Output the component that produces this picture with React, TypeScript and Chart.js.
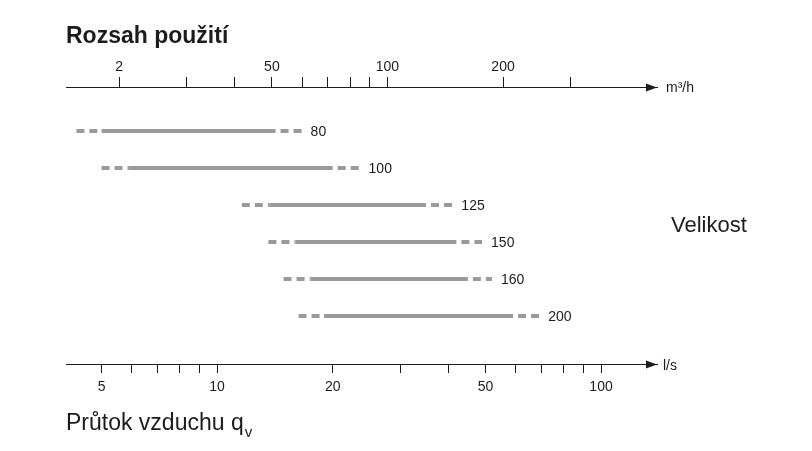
import { useEffect, useRef } from 'react';
import { Chart, registerables } from 'chart.js';

Chart.register(...registerables);

// Duct sizes, one row each
const sizes = ['80', '100', '125', '150', '160', '200'];
// Air flow in l/s: extended (dashed) and nominal (solid) operating range
const extendedMin = [4.3, 5.0, 11.6, 13.6, 14.9, 16.3];
const nominalMin = [5.0, 5.9, 13.7, 16.0, 17.5, 19.0];
const nominalMax = [14.2, 20.0, 35.0, 42.0, 45.0, 59.0];
const extendedMax = [16.6, 23.5, 41.0, 49.0, 52.0, 69.0];

// Bottom axis (l/s)
const lsTicks = [5, 6, 7, 8, 9, 10, 20, 30, 40, 50, 60, 70, 80, 90, 100];
const lsLabels = ['5', '', '', '', '', '10', '20', '', '', '50', '', '', '', '', '100'];
// Top axis (m³/h)
const m3hTicks = [20, 30, 40, 50, 60, 70, 80, 90, 100, 200, 300];
const m3hLabels = ['2', '', '', '50', '', '', '', '', '100', '200', ''];

const LS_MIN = 4.04;
const LS_MAX = 139.9;
const M3H_PER_LS = 3.6;

const FONT = "'Liberation Sans', Arial, Helvetica, sans-serif";
const INK = '#1c1c1c';
const BAR = '#9a9a9a';

const decorations = {
  id: 'decorations',
  afterDraw(chart: any) {
    const { ctx, chartArea } = chart;
    const xs = chart.scales.x;
    const ys = chart.scales.y;
    ctx.save();

    // arrow heads at the right end of both axes
    ctx.fillStyle = INK;
    const arrow = (yy: number) => {
      ctx.beginPath();
      ctx.moveTo(chartArea.right, yy);
      ctx.lineTo(chartArea.right - 11, yy - 4);
      ctx.lineTo(chartArea.right - 11, yy + 4);
      ctx.closePath();
      ctx.fill();
    };
    arrow(Math.floor(chartArea.top) + 0.5);
    arrow(Math.floor(chartArea.bottom) + 0.5);

    // size labels at the end of each range
    ctx.font = `14px ${FONT}`;
    ctx.textAlign = 'left';
    ctx.textBaseline = 'middle';
    sizes.forEach((s, i) => {
      ctx.fillText(s, xs.getPixelForValue(extendedMax[i]) + 9, ys.getPixelForValue(i) + 1);
    });

    // units
    ctx.textBaseline = 'alphabetic';
    ctx.fillText('m³/h', chartArea.right + 9, chartArea.top + 5);
    ctx.fillText('l/s', chartArea.right + 6, chartArea.bottom + 6);

    // titles
    ctx.font = `bold 23px ${FONT}`;
    ctx.fillText('Rozsah použití', 66, 43);
    ctx.font = `22px ${FONT}`;
    ctx.fillText('Velikost', 671, 232);
    ctx.font = `23px ${FONT}`;
    const flow = 'Průtok vzduchu q';
    ctx.fillText(flow, 66, 430);
    const w = ctx.measureText(flow).width;
    ctx.font = `15px ${FONT}`;
    ctx.fillText('v', 67 + w, 437);

    ctx.restore();
  },
};

function segment(x0: number, x1: number, row: number, dashed: boolean, offset: number) {
  return {
    type: 'line' as const,
    data: [
      { x: x0, y: row },
      { x: x1, y: row },
    ],
    showLine: true,
    pointRadius: 0,
    borderColor: BAR,
    borderWidth: 4,
    borderCapStyle: 'butt' as const,
    borderDash: dashed ? [8, 5] : [],
    borderDashOffset: offset,
    fill: false,
  };
}

export default function App() {
  const canvasRef = useRef<HTMLCanvasElement | null>(null);

  useEffect(() => {
    if (!canvasRef.current) return;

    const datasets: any[] = [];
    sizes.forEach((_, i) => {
      datasets.push(segment(extendedMin[i], nominalMin[i], i, true, 0));
      datasets.push(segment(nominalMin[i], nominalMax[i], i, false, 0));
      datasets.push(segment(nominalMax[i], extendedMax[i], i, true, 8));
    });

    const chart = new Chart(canvasRef.current, {
      type: 'scatter',
      data: { datasets },
      plugins: [decorations],
      options: {
        animation: false,
        responsive: false,
        devicePixelRatio: 1,
        layout: { padding: { left: 66, right: 155, top: 0, bottom: 0 } },
        plugins: { legend: { display: false }, tooltip: { enabled: false } },
        scales: {
          x: {
            type: 'logarithmic',
            position: 'bottom',
            bounds: 'data',
            min: LS_MIN,
            max: LS_MAX,
            afterBuildTicks: (scale: any) => {
              scale.ticks = lsTicks.map((v) => ({ value: v }));
            },
            afterFit: (scale: any) => {
              scale.height = 87;
            },
            ticks: {
              autoSkip: false,
              maxRotation: 0,
              minRotation: 0,
              padding: 6,
              color: INK,
              font: { family: FONT, size: 14 },
              callback: (value: any) => {
                const k = lsTicks.indexOf(Number(value));
                return k >= 0 ? lsLabels[k] : '';
              },
            },
            grid: { drawOnChartArea: false, tickLength: 9, tickColor: INK, tickWidth: 1 },
            border: { display: true, color: INK, width: 1 },
          },
          x2: {
            type: 'logarithmic',
            position: 'top',
            bounds: 'data',
            min: LS_MIN * M3H_PER_LS,
            max: LS_MAX * M3H_PER_LS,
            afterBuildTicks: (scale: any) => {
              scale.ticks = m3hTicks.map((v) => ({ value: v }));
            },
            afterFit: (scale: any) => {
              scale.height = 87;
            },
            ticks: {
              autoSkip: false,
              maxRotation: 0,
              minRotation: 0,
              padding: 1,
              color: INK,
              font: { family: FONT, size: 14 },
              callback: (value: any) => {
                const k = m3hTicks.indexOf(Number(value));
                return k >= 0 ? m3hLabels[k] : '';
              },
            },
            grid: { drawOnChartArea: false, tickLength: 10, tickColor: INK, tickWidth: 1 },
            border: { display: true, color: INK, width: 1 },
          },
          y: {
            type: 'linear',
            display: false,
            reverse: true,
            min: -1.189,
            max: 6.297,
          },
        },
      } as any,
    });

    return () => chart.destroy();
  }, []);

  return (
    <div style={{ position: 'absolute', left: 0, top: 0, width: 812, height: 451, background: '#fff' }}>
      <canvas ref={canvasRef} width={812} height={451} style={{ display: 'block' }} />
    </div>
  );
}
